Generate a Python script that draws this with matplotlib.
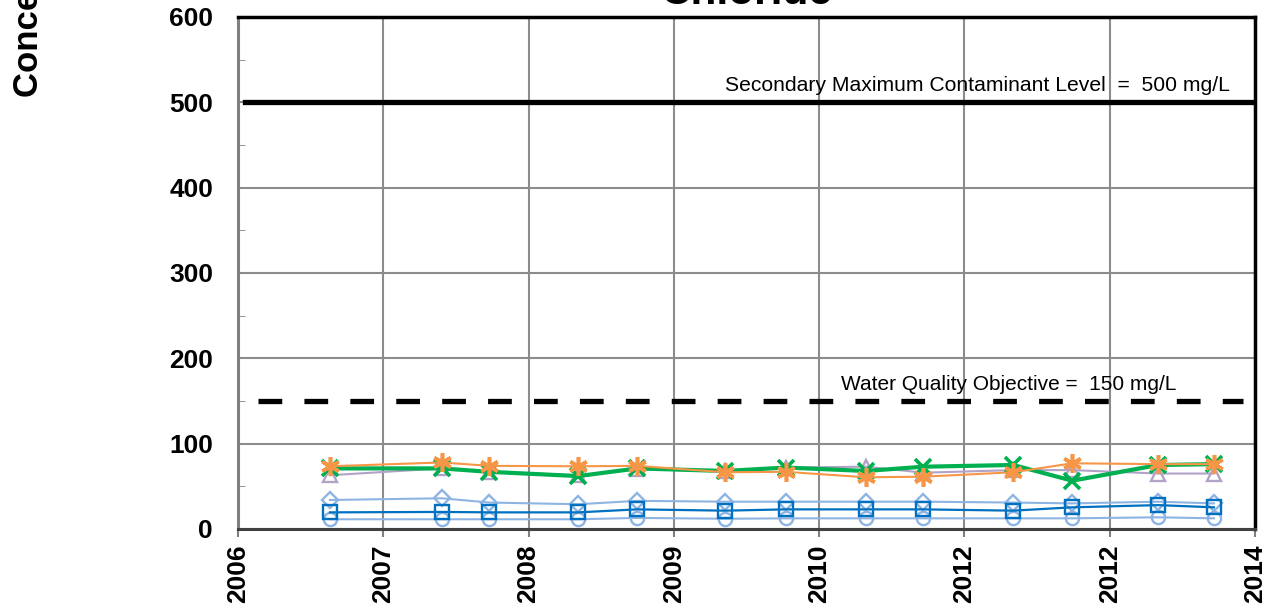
import matplotlib.pyplot as plt
from matplotlib.ticker import MultipleLocator

plt.rcParams['font.family'] = ['Liberation Sans', 'DejaVu Sans']

# x positions are in axis units (one unit per labelled tick)
sample_x = [0.633, 1.402, 1.730, 2.342, 2.748, 3.352, 3.772,
            4.322, 4.717, 5.336, 5.742, 6.334, 6.717]
tick_labels = ['2006', '2007', '2008', '2009', '2010', '2012', '2012', '2014']

chloride_star = [73.5, 78, 74, 73.5, 74, 66.5, 67, 60.6, 61.3, 66.5, 77, 76, 76]
chloride_x = [71, 71, 67, 62, 71, 68, 72, 68, 73, 75, 56.6, 75, 76]
chloride_tri = [63, 71, 67, 63, 70, 68, 72, 73, 66, 69, 69, 65, 65]
chloride_diamond = [34, 36, 31, 29, 33, 32, 32, 32, 32, 31, 30, 32, 30]
chloride_square = [19.5, 20, 19.5, 19.5, 23, 21.5, 23, 23, 23, 21.5, 25.4, 28, 25.4]
chloride_circle = [11.4, 11.4, 11.4, 11.4, 13, 12, 12.5, 12.5, 12.5, 12.5, 12.5, 13.7, 12.5]

smcl = 500
wqo = 150

fig = plt.figure(figsize=(12.73, 6.06), dpi=100)
ax = fig.add_axes([238 / 1273, 77 / 606, 1017 / 1273, 512 / 606])

ax.axhline(smcl, xmin=0.007, xmax=1.0, color='black', lw=3.8, zorder=3)
ax.axhline(wqo, xmin=0.02, xmax=0.988, color='black', lw=3.8, ls=(0, (4.5, 4.2)), zorder=3)

ax.plot(sample_x, chloride_circle, color='#8DB4E2', lw=1.5, marker='o', ms=9.5,
        mfc='none', mew=1.7, zorder=4)
ax.plot(sample_x, chloride_diamond, color='#8DB4E2', lw=1.5, marker='D', ms=8,
        mfc='none', mew=1.7, zorder=4)
ax.plot(sample_x, chloride_square, color='#0070C0', lw=1.6, marker='s', ms=9.5,
        mfc='none', mew=1.7, zorder=5)
ax.plot(sample_x, chloride_tri, color='#B3A2C7', lw=1.5, marker='^', ms=10,
        mfc='none', mew=1.7, zorder=4)
ax.plot(sample_x, chloride_x, color='#00B050', lw=3, marker='x', ms=11,
        mew=2.6, zorder=5)
ax.plot(sample_x, chloride_star, color='#F79646', lw=1.5, marker=(6, 2, 0), ms=13.5,
        mew=2.6, zorder=6)

ax.text(0.9754, smcl + 13, 'Secondary Maximum Contaminant Level  =  500 mg/L',
        transform=ax.get_yaxis_transform(), ha='right', va='baseline', fontsize=15.2)
ax.text(0.923, wqo + 13, 'Water Quality Objective =  150 mg/L',
        transform=ax.get_yaxis_transform(), ha='right', va='baseline', fontsize=15.0)

ax.set_xlim(0, 7)
ax.set_ylim(0, 600)
ax.set_xticks(range(8))
ax.set_xticklabels(tick_labels, rotation=90, fontsize=19, fontweight='bold')
ax.yaxis.set_major_locator(MultipleLocator(100))
ax.yaxis.set_minor_locator(MultipleLocator(50))
for lbl in ax.get_yticklabels():
    lbl.set_fontsize(19)
    lbl.set_fontweight('bold')
ax.tick_params(axis='y', which='major', length=0, pad=18)
ax.tick_params(axis='y', which='minor', direction='in', length=5, color='#808080')
ax.tick_params(axis='x', which='major', direction='out', length=6, color='#808080',
               width=1.5, pad=5)
ax.grid(True, which='major', color='#8c8c8c', lw=1.5)
ax.set_axisbelow(True)

ax.spines['left'].set_color('#808080')
ax.spines['left'].set_linewidth(2.2)
ax.spines['bottom'].set_color('#404040')
ax.spines['bottom'].set_linewidth(2.2)
ax.spines['top'].set_color('black')
ax.spines['top'].set_linewidth(2.5)
ax.spines['right'].set_color('black')
ax.spines['right'].set_linewidth(2.5)

# title and axis label sit partly outside the saved area, as in the source
fig.text(746 / 1273, 1 - 4.5 / 606, 'Chloride', ha='center', va='baseline',
         fontsize=30.5, fontweight='bold')
fig.text(12 / 1273, 1 - 97 / 606, 'Concentration (mg/L)', rotation=90,
         ha='left', va='bottom', fontsize=25, fontweight='bold')

fig.savefig('out.png', dpi=100)
